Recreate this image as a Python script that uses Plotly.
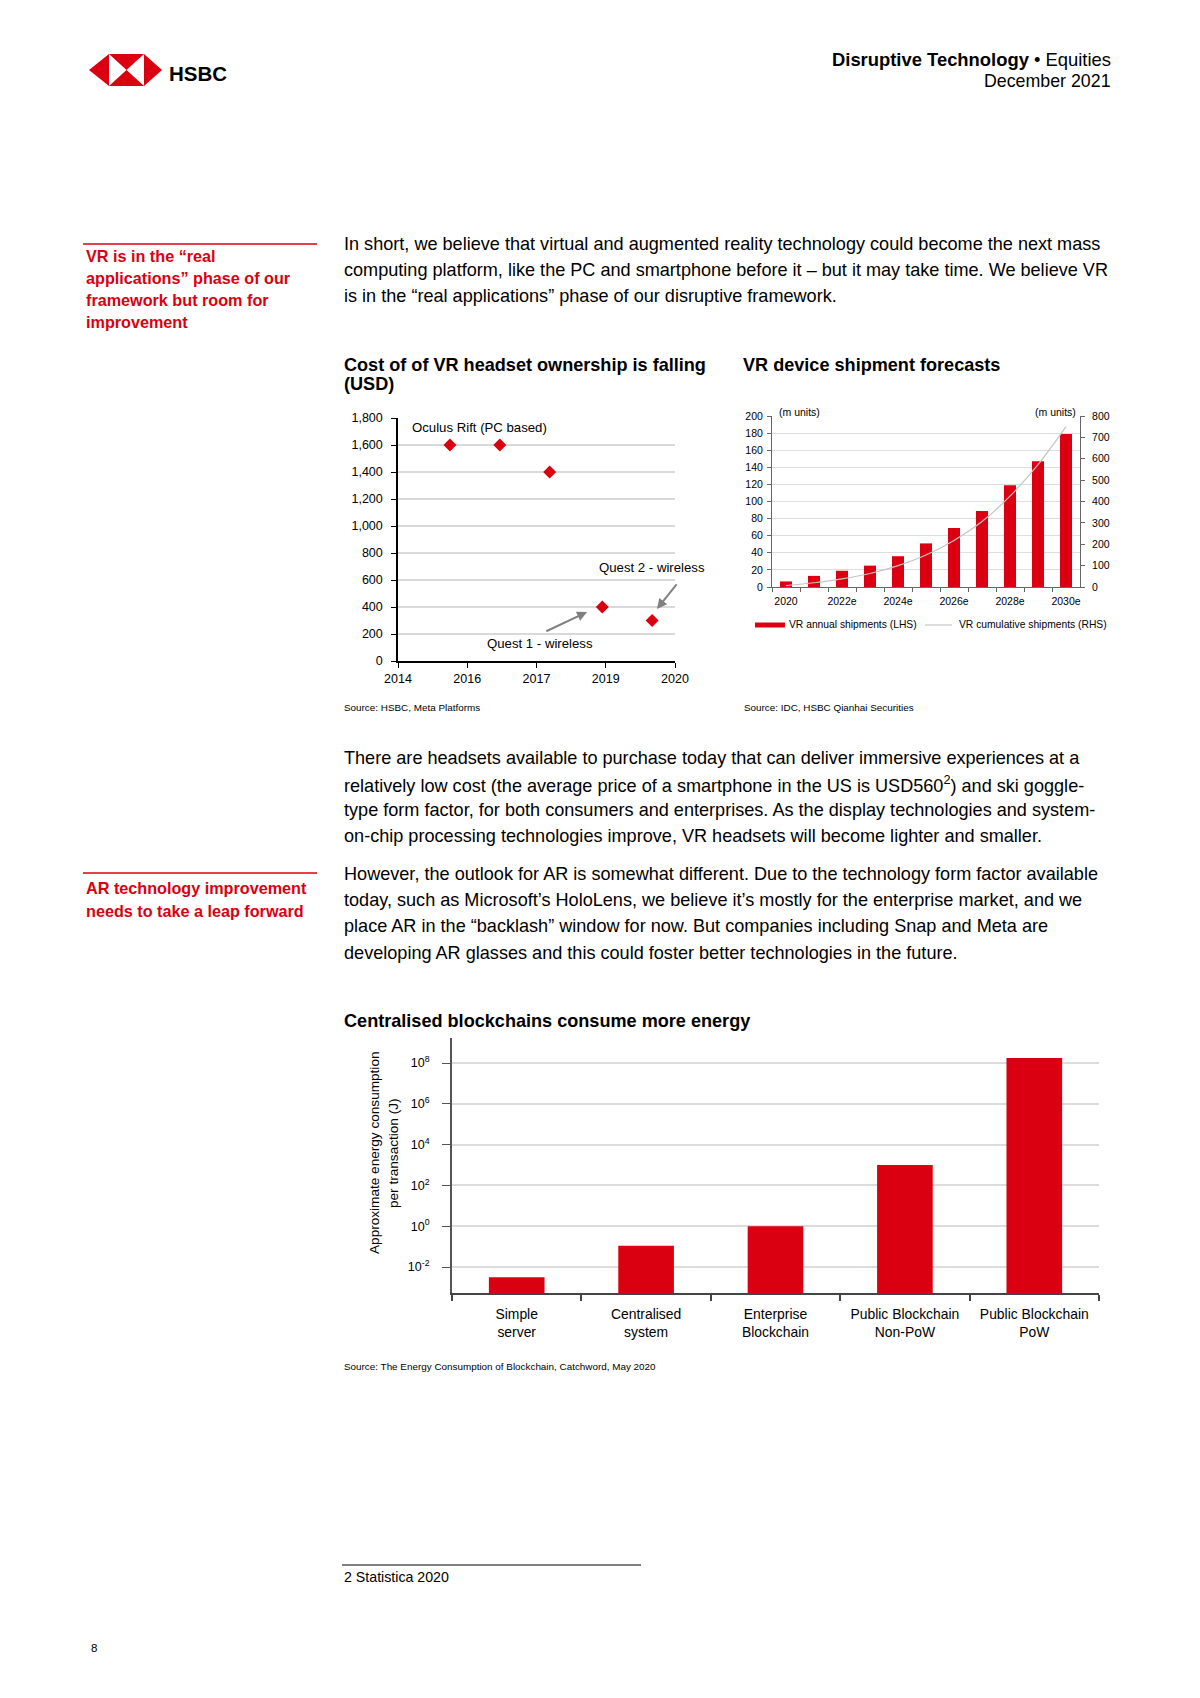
import plotly.graph_objects as go

W, H = 1200, 1698
OFF = 8  # page body margin of the html page
RED = "#DB0011"
FONT = "Liberation Sans, Arial, sans-serif"

# ---------------- data ----------------
# Chart 1: cost of VR headset ownership (USD)
c1_tick_pos = [0, 1, 2, 3, 4]
c1_tick_labels = ["2014", "2016", "2017", "2019", "2020"]
c1_point_pos = [0.75, 1.47, 2.19, 2.95, 3.67]
c1_prices = [1600, 1600, 1400, 400, 300]

# Chart 2: VR device shipment forecasts (m units)
c2_years = ["2020", "2021e", "2022e", "2023e", "2024e", "2025e", "2026e",
            "2027e", "2028e", "2029e", "2030e"]
c2_tick_labels = ["2020", "", "2022e", "", "2024e", "", "2026e", "", "2028e", "", "2030e"]
c2_annual = [6.5, 13, 19, 25, 36, 51, 69, 89, 119, 147, 179]
c2_cumulative = [7, 20, 38, 63, 100, 150, 218, 306, 425, 572, 750]

# Chart 3: energy per transaction (J)
c3_categories = ["Simple<br>server", "Centralised<br>system", "Enterprise<br>Blockchain",
                 "Public Blockchain<br>Non-PoW", "Public Blockchain<br>PoW"]
c3_energy = [0.0032, 0.11, 1.0, 1000, 1.8e8]
c3_tick_vals = [1e-2, 1e0, 1e2, 1e4, 1e6, 1e8]
c3_tick_text = ["10<sup>-2</sup>", "10<sup>0</sup>", "10<sup>2</sup>", "10<sup>4</sup>",
                "10<sup>6</sup>", "10<sup>8</sup>"]


def px(x):
    return (x - OFF) / W


def py(y):
    return 1 - (y - OFF) / H


fig = go.Figure()

# ---------------- traces ----------------
fig.add_trace(go.Scatter(
    x=c1_point_pos, y=c1_prices, mode="markers", xaxis="x", yaxis="y",
    marker=dict(symbol="diamond", size=10, color=RED), showlegend=False,
    hoverinfo="y"))

fig.add_trace(go.Bar(
    x=c2_years, y=c2_annual, xaxis="x2", yaxis="y2", marker_color=RED,
    marker_line_width=0, name="VR annual shipments (LHS)", showlegend=False))
fig.add_trace(go.Scatter(
    x=c2_years, y=c2_cumulative, xaxis="x2", yaxis="y3", mode="lines",
    line=dict(color="#C4C4C4", width=1.2, shape="spline"),
    name="VR cumulative shipments (RHS)", showlegend=False))

fig.add_trace(go.Bar(
    x=c3_categories, y=c3_energy, xaxis="x4", yaxis="y4", marker_color=RED,
    marker_line_width=0, showlegend=False))

tickfont = lambda s: dict(family=FONT, size=s, color="#000")

layout = dict(
    width=W, height=H, margin=dict(l=0, r=0, t=0, b=0, pad=0, autoexpand=False),
    paper_bgcolor="white", plot_bgcolor="white",
    font=dict(family=FONT, color="#000"),
    bargap=0.57, showlegend=False,
    # chart 1
    xaxis=dict(domain=[px(398), px(675)], range=[0, 4], tickvals=c1_tick_pos,
               ticktext=c1_tick_labels, showgrid=False, zeroline=False,
               showline=True, linecolor="#000", linewidth=1.5, ticks="outside",
               ticklen=5, tickcolor="#000", tickfont=tickfont(12.5), anchor="y",
               tickangle=0, automargin=False),
    yaxis=dict(domain=[py(661), py(418)], range=[0, 1800], dtick=200,
               tickformat=",d", showgrid=True, gridcolor="#D9D9D9", gridwidth=2,
               zeroline=False, showline=True, linecolor="#000", linewidth=1.5,
               ticks="outside", ticklen=5, tickcolor="#000", ticklabelstandoff=6,
               tickfont=tickfont(12.5), anchor="x", automargin=False),
    # chart 2
    xaxis2=dict(domain=[px(772), px(1080)], type="category", range=[-0.5, 10.5],
                tickvals=c2_years, ticktext=c2_tick_labels, tickson="boundaries",
                showgrid=False, zeroline=False, showline=True, linecolor="#666",
                linewidth=1, ticks="outside", ticklen=4, tickcolor="#666",
                ticklabelstandoff=4,
                tickfont=tickfont(10.5), anchor="y2", tickangle=0, automargin=False),
    yaxis2=dict(domain=[py(587), py(416)], range=[0, 200], dtick=20,
                showgrid=True, gridcolor="#DDDDDD", gridwidth=1, zeroline=False,
                showline=True, linecolor="#666", linewidth=1, ticks="outside",
                ticklen=4, tickcolor="#666", ticklabelstandoff=2,
                tickfont=tickfont(10.5), anchor="x2", automargin=False),
    yaxis3=dict(overlaying="y2", side="right", range=[0, 800], dtick=100,
                showgrid=False, zeroline=False, showline=True, linecolor="#666",
                linewidth=1, ticks="outside", ticklen=4, tickcolor="#666",
                ticklabelstandoff=5,
                tickfont=tickfont(10.5), anchor="x2", automargin=False),
    # chart 3
    xaxis4=dict(domain=[px(452), px(1099)], type="category", tickson="boundaries",
                showgrid=False, zeroline=False, showline=True, linecolor="#444",
                linewidth=2, ticks="outside", ticklen=6, tickcolor="#444",
                tickwidth=1.5, ticklabelstandoff=7,
                tickfont=tickfont(13.9), anchor="y4", tickangle=0,
                automargin=False),
    yaxis4=dict(domain=[py(1293), py(1038)], type="log", range=[-3.27, 9.23],
                tickvals=c3_tick_vals, ticktext=c3_tick_text, showgrid=True,
                gridcolor="#DCDCDC", gridwidth=2, zeroline=False, showline=True,
                linecolor="#555", linewidth=2, ticks="outside", ticklen=8,
                tickcolor="#555", ticklabelstandoff=10, tickfont=tickfont(12.5),
                anchor="x4", automargin=False),
)
fig.update_layout(**layout)
fig.update_layout(bargroupgap=0)

annotations = []
shapes = []


def text(x, y, s, size=18.1, color="#000", anchor="left", bold=False, **kw):
    if bold:
        s = "<b>" + s + "</b>"
    annotations.append(dict(x=px(x), y=py(y), xref="paper", yref="paper",
                            text=s, showarrow=False, xanchor=anchor,
                            yanchor="middle",
                            font=dict(family=FONT, size=size, color=color), **kw))


# ---------------- header ----------------
# HSBC hexagon logo
L, X1, X2, R = 89, 109, 144, 162
T, M, B = 54, 70, 86
XC = (X1 + X2) / 2


def poly(pts, color):
    d = "M " + " L ".join(f"{px(x)},{py(y)}" for x, y in pts) + " Z"
    shapes.append(dict(type="path", path=d, xref="paper", yref="paper",
                       fillcolor=color, line=dict(width=0)))


poly([(L, M), (X1, T), (X1, B)], RED)
poly([(R, M), (X2, T), (X2, B)], RED)
poly([(X1, T), (X2, T), (XC, M)], RED)
poly([(X1, B), (X2, B), (XC, M)], RED)
text(167, 73, "HSBC", size=20.5, bold=True)

text(1113, 60, "<b>Disruptive Technology</b> • Equities", size=18.4, anchor="right")
text(1113, 81, "December 2021", size=17.8, anchor="right")

# ---------------- side notes ----------------
shapes.append(dict(type="line", xref="paper", yref="paper", x0=px(83), x1=px(317),
                   y0=py(244), y1=py(244), line=dict(color=RED, width=1.5)))
for yy, s in zip([256, 278, 300, 322],
                 ["VR is in the “real", "applications” phase of our",
                  "framework but room for", "improvement"]):
    text(84, yy, s, size=16.2, color=RED, bold=True)

shapes.append(dict(type="line", xref="paper", yref="paper", x0=px(83), x1=px(317),
                   y0=py(873), y1=py(873), line=dict(color=RED, width=1.5)))
for yy, s in zip([888, 911], ["AR technology improvement", "needs to take a leap forward"]):
    text(84, yy, s, size=16.2, color=RED, bold=True)

# ---------------- body text ----------------
para1 = ["In short, we believe that virtual and augmented reality technology could become the next mass",
         "computing platform, like the PC and smartphone before it – but it may take time. We believe VR",
         "is in the “real applications” phase of our disruptive framework."]
for yy, s in zip([244, 270, 296], para1):
    text(342, yy, s)

para2 = ["There are headsets available to purchase today that can deliver immersive experiences at a",
         "relatively low cost (the average price of a smartphone in the US is USD560<sup>2</sup>) and ski goggle-",
         "type form factor, for both consumers and enterprises. As the display technologies and system-",
         "on-chip processing technologies improve, VR headsets will become lighter and smaller."]
for yy, s in zip([758, 784, 810, 836], para2):
    text(342, yy, s)

para3 = ["However, the outlook for AR is somewhat different. Due to the technology form factor available",
         "today, such as Microsoft’s HoloLens, we believe it’s mostly for the enterprise market, and we",
         "place AR in the “backlash” window for now. But companies including Snap and Meta are",
         "developing AR glasses and this could foster better technologies in the future."]
for yy, s in zip([874, 900, 926, 953], para3):
    text(342, yy, s)

# ---------------- chart titles & sources ----------------
text(342, 365, "Cost of of VR headset ownership is falling", size=18.1, bold=True)
text(342, 384, "(USD)", size=18.1, bold=True)
text(741, 365, "VR device shipment forecasts", size=18.1, bold=True)
text(342, 1021, "Centralised blockchains consume more energy", size=18.1, bold=True)

text(342, 707, "Source: HSBC, Meta Platforms", size=9.9)
text(742, 707, "Source: IDC, HSBC Qianhai Securities", size=9.9)
text(342, 1366, "Source: The Energy Consumption of Blockchain, Catchword, May 2020", size=9.9)

# ---------------- chart 1 annotations ----------------
def c1(s, x, y):
    annotations.append(dict(x=x, y=y, xref="x", yref="y", text=s, showarrow=False,
                            xanchor="left", yanchor="middle",
                            font=dict(family=FONT, size=13.2, color="#000")))


c1("Oculus Rift (PC based)", 0.17, 1726)
c1("Quest 2 - wireless", 2.87, 689)
c1("Quest 1 - wireless", 1.26, 133)
for (hx, hy, tx, ty) in [(2.73, 363, 2.12, 215), (3.74, 385, 4.04, 578)]:
    annotations.append(dict(x=hx, y=hy, ax=tx, ay=ty, xref="x", yref="y",
                            axref="x", ayref="y", text="", showarrow=True,
                            arrowhead=2, arrowsize=1, arrowwidth=2,
                            arrowcolor="#808080"))

# ---------------- chart 2 labels & legend ----------------
text(777, 412, "(m units)", size=10.5)
text(1078, 412, "(m units)", size=10.5, anchor="right")
shapes.append(dict(type="line", xref="paper", yref="paper", x0=px(755), x1=px(785),
                   y0=py(625), y1=py(625), line=dict(color=RED, width=5)))
text(787, 625, "VR annual shipments (LHS)", size=10.3)
shapes.append(dict(type="line", xref="paper", yref="paper", x0=px(925), x1=px(952),
                   y0=py(625), y1=py(625), line=dict(color="#C4C4C4", width=1.2)))
text(957, 625, "VR cumulative shipments (RHS)", size=10.3)

# ---------------- chart 3 y title ----------------
text(374, 1153, "Approximate energy consumption", size=13.6, anchor="center", textangle=-90)
text(393, 1153, "per transaction (J)", size=13.6, anchor="center", textangle=-90)

# ---------------- footer ----------------
shapes.append(dict(type="line", xref="paper", yref="paper", x0=px(342), x1=px(641),
                   y0=py(1565), y1=py(1565), line=dict(color="#000", width=1)))
text(342, 1577, "2 Statistica 2020", size=14.2)
text(89, 1648, "8", size=11.5)

fig.update_layout(annotations=annotations, shapes=shapes)
fig.write_html("out.html")
